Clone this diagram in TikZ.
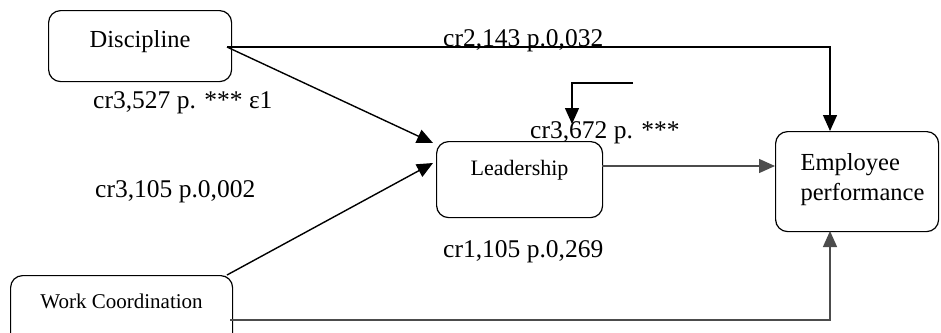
\documentclass[tikz,border=0pt]{standalone}
\usepackage{fontspec}
\setmainfont{Liberation Serif}
\usetikzlibrary{arrows.meta,calc}
\begin{document}
\begin{tikzpicture}[x=1pt,y=-1pt,
  box/.style={draw=black,line width=1.2pt,rounded corners=12pt,inner sep=0pt,anchor=north west},
  conn/.style={line width=1.4pt,draw=black},
  gconn/.style={line width=1.4pt,draw=black!70},
  tip/.style={-{Triangle[length=16pt,width=14pt]}},
  lbl/.style={anchor=base west,inner sep=0pt,font=\fontsize{25.5}{30}\selectfont}]
\useasboundingbox (0,0) rectangle (941,332);
% boxes
\node[box,minimum width=183pt,text height=37pt,text depth=34pt,font=\fontsize{24.5}{29}\selectfont] (disc) at (48,10) {Discipline};
\node[box,minimum width=166pt,text height=34pt,text depth=42pt,font=\fontsize{22}{26}\selectfont] (lead) at (436,141) {Leadership};
\node[box,text width=113pt,inner xsep=25pt,align=left,text height=39pt,text depth=61pt,font=\fontsize{24.5}{30}\selectfont] (emp) at (775,131) {Employee\\performance};
\node[box,minimum width=222pt,text height=33pt,text depth=37pt,font=\fontsize{21}{25}\selectfont] (wc) at (10,275) {Work Coordination};
% helper coordinates
\coordinate (d0) at (227,47);
\coordinate (e1) at (830,131);
\coordinate (e2) at (830,231);
\coordinate (w0) at (230,320);
\coordinate (wc0) at (227,275);
\coordinate (l1) at (433,143);
\coordinate (l2) at (433,163);
\coordinate (lo) at (602,166);
\coordinate (f0) at (633,83);
\coordinate (f1) at (572,124);
% connectors
\draw[conn,tip] (d0) -| (e1);
\draw[conn,tip] (d0) -- (l1);
\draw[conn,tip] (wc0) -- (l2);
\draw[gconn,tip] (lo) -- (lo -| emp.west);
\draw[gconn,tip] (w0) -| (e2);
\draw[conn,tip] (f0) -| (f1);
% labels
\node[lbl] (t1) at (93,108) {cr3,527 p. *** ε1};
\node[lbl] (t2) at (443,46) {cr2,143 p.0,032};
\node[lbl] (t3) at (530,138) {cr3,672 p. ***};
\node[lbl] (t4) at (95,197) {cr3,105 p.0,002};
\node[lbl] (t5) at (443,257) {cr1,105 p.0,269};
\end{tikzpicture}
\end{document}
